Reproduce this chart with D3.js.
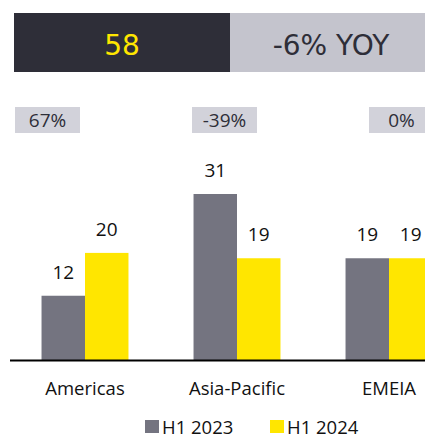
<!DOCTYPE html>
<html>
<head>
<meta charset="utf-8">
<script src="https://cdn.jsdelivr.net/npm/d3@7"></script>
<style>
  body { margin: 0; background: #fff; }
  svg { display: block; }
</style>
</head>
<body>
<script>
// chart data
const regions = ['Americas', 'Asia-Pacific', 'EMEIA']
const series = ['H1 2023', 'H1 2024']
const h12023 = [12, 31, 19]
const h12024 = [20, 19, 19]
const yoyLabels = ['67%', '-39%', '0%']
const totalValue = '58'
const totalChange = '-6% YOY'

const colors = { 'H1 2023': '#747480', 'H1 2024': '#FFE600' }
const dark = '#2E2E38'

const m = { width: 425, height: 437 }

const svg = d3.select('body').append('svg')
    .attr('width', m.width)
    .attr('height', m.height)

// top banner
svg.append('rect')
    .attr('x', 14).attr('y', 13)
    .attr('width', 216).attr('height', 59)
    .attr('fill', dark)
svg.append('rect')
    .attr('x', 230).attr('y', 13)
    .attr('width', 200).attr('height', 59)
    .attr('fill', '#C4C4CD')
svg.append('text')
    .attr('x', 122).attr('y', 55)
    .attr('text-anchor', 'middle')
    .attr('font-family', 'DejaVu Sans')
    .attr('font-size', 28)
    .attr('fill', '#FFE600')
    .text(totalValue)
svg.append('text')
    .attr('x', 331).attr('y', 55)
    .attr('text-anchor', 'middle')
    .attr('font-family', 'DejaVu Sans')
    .attr('font-size', 28)
    .attr('fill', dark)
    .text(totalChange)

// scales
const x = d3.scaleBand()
    .domain(regions)
    .range([9, 465])
    .paddingInner(0.428)
    .paddingOuter(0.214)

const xs = d3.scaleBand()
    .domain(series)
    .range([0, x.bandwidth()])

const y = d3.scaleLinear()
    .domain([0, 31])
    .range([360, 194])

// yoy change boxes
const xp = d3.scalePoint()
    .domain(regions)
    .range([47.5, 401.5])

const boxes = svg.selectAll('g.yoy')
    .data(regions)
    .join('g')
    .attr('class', 'yoy')
    .attr('transform', d => `translate(${xp(d)},0)`)
boxes.append('rect')
    .attr('x', -32.5).attr('y', 107)
    .attr('width', 65).attr('height', 26)
    .attr('fill', '#D2D2DA')
boxes.append('text')
    .attr('y', 127)
    .attr('text-anchor', 'middle')
    .attr('font-family', 'Open Sans')
    .attr('font-size', 19)
    .attr('fill', dark)
    .text((d, i) => yoyLabels[i])

// bars
const rows = regions.map((r, i) => ({
    region: r,
    values: [
        { key: 'H1 2023', value: h12023[i] },
        { key: 'H1 2024', value: h12024[i] }
    ]
}))

const groups = svg.selectAll('g.region')
    .data(rows)
    .join('g')
    .attr('class', 'region')
    .attr('transform', d => `translate(${x(d.region)},0)`)

groups.selectAll('rect')
    .data(d => d.values)
    .join('rect')
    .attr('x', d => xs(d.key))
    .attr('y', d => y(d.value))
    .attr('width', xs.bandwidth())
    .attr('height', d => y(0) - y(d.value))
    .attr('fill', d => colors[d.key])

groups.selectAll('text')
    .data(d => d.values)
    .join('text')
    .attr('x', d => xs(d.key) + xs.bandwidth() / 2)
    .attr('y', d => y(d.value) - 17)
    .attr('text-anchor', 'middle')
    .attr('font-family', 'Open Sans')
    .attr('font-size', 19)
    .attr('fill', '#111')
    .text(d => d.value)

// baseline and category labels
const xAxis = d3.axisBottom(x).tickSize(0).tickPadding(22)
const axis = svg.append('g')
    .attr('transform', `translate(0,${y(0)})`)
    .call(xAxis)
axis.select('.domain')
    .attr('d', 'M10,0.5H425')
    .attr('stroke', '#000')
    .attr('stroke-width', 2)
axis.selectAll('text')
    .attr('font-family', 'Open Sans')
    .attr('font-size', 18.5)
    .attr('fill', '#111')

// legend
const legend = svg.selectAll('g.legend')
    .data(series)
    .join('g')
    .attr('class', 'legend')
    .attr('transform', (d, i) => `translate(${145 + i * 125},0)`)
legend.append('rect')
    .attr('y', 420)
    .attr('width', 14).attr('height', 13)
    .attr('fill', d => colors[d])
legend.append('text')
    .attr('x', 17).attr('y', 434)
    .attr('font-family', 'Open Sans')
    .attr('font-size', 18.5)
    .attr('fill', '#111')
    .text(d => d)
</script>
</body>
</html>
